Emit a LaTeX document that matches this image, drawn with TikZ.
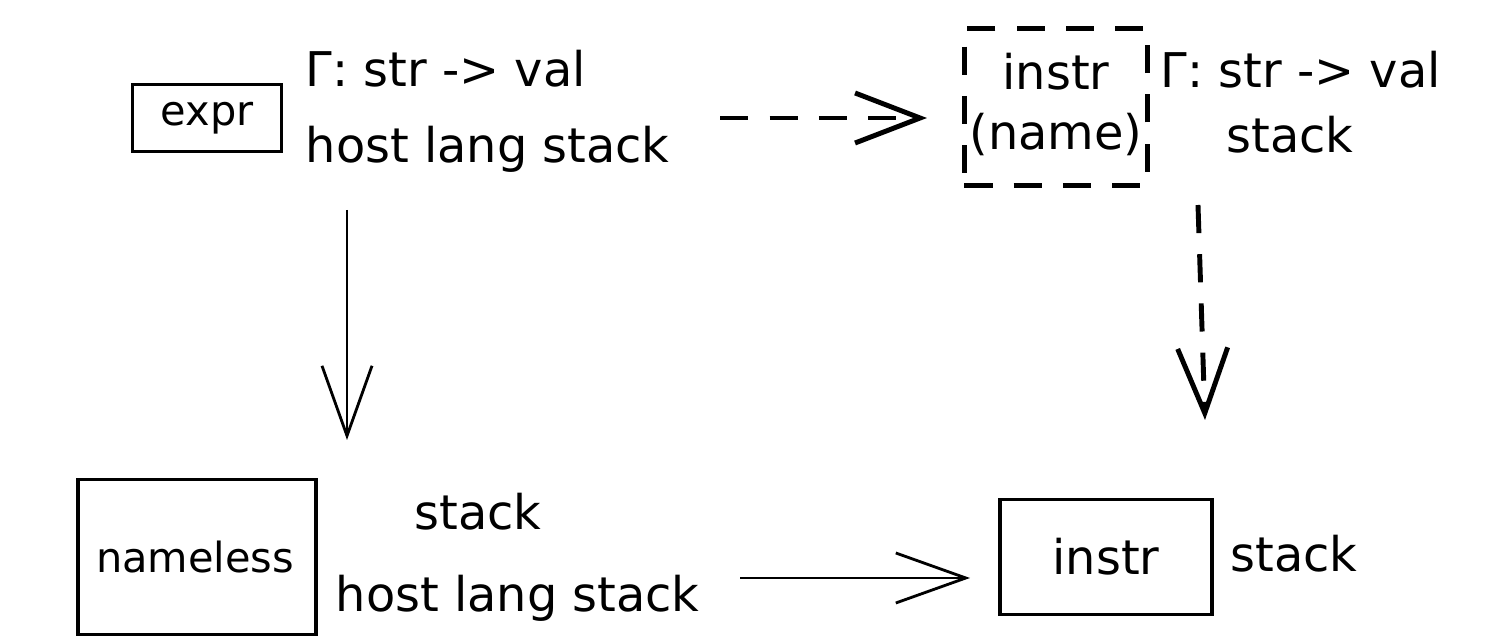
\documentclass[tikz,border=0pt]{standalone}
\usepackage{fontspec}
\setmainfont{DejaVu Sans}
\usetikzlibrary{arrows.meta,positioning,calc}

\begin{document}
\begin{tikzpicture}[
    x=0.01cm, y=-0.01cm,
    font=\fontsize{13.6}{17}\selectfont,
    box/.style={
        rectangle,
        draw,
        line width=0.9pt,
        align=center,
        inner sep=0pt
    },
    dashbox/.style={
        box,
        line width=1.4pt,
        dash pattern=on 8pt off 6pt
    },
    label/.style={
        inner sep=0pt,
        anchor=base west
    },
    small/.style={
        font=\fontsize{11.8}{15}\selectfont
    },
    arrow/.style={
        -{Straight Barb[length=7mm,width=5mm,line width=0.8pt]},
        line width=0.7pt
    },
    dasharrow/.style={
        -{Straight Barb[length=6.5mm,width=5mm,line width=1.4pt]},
        line width=1.4pt,
        dash pattern=on 8pt off 6pt
    }
]
\useasboundingbox (0,0) rectangle (1499,643);

% top row
\node[box, small, minimum width=1.49cm, minimum height=0.67cm] (expr) at (207,118) {expr};
\node[label] (gammaA) at (305,87) {Γ: str -> val};
\node[label] (hostA) at (305,163) {host lang stack};

\node[dashbox, minimum width=1.83cm, minimum height=1.57cm] (instrN) at (1056,107) {};
\node[inner sep=0pt, anchor=base] (instrNt) at (1056,90) {instr};
\node[inner sep=0pt, anchor=base] (instrNn) at (1056,150) {(name)};
\node[label] (gammaB) at (1160,88) {Γ: str -> val};
\node[inner sep=0pt, anchor=base] (stackA) at (1290,153) {stack};

% bottom row
\node[box, minimum width=2.38cm, minimum height=1.55cm] (nameless) at (197,557) {};
\node[small, inner sep=0pt, anchor=base] (namelesst) at (195,573) {nameless};
\node[inner sep=0pt, anchor=base] (stackB) at (478,530) {stack};
\node[label] (hostB) at (335,612) {host lang stack};

\node[box, minimum width=2.12cm, minimum height=1.15cm] (instr) at (1106,557) {};
\node[inner sep=0pt, anchor=base] (instrt) at (1106,575) {instr};
\node[label] (stackC) at (1230,572) {stack};

% arrow ends
\coordinate (downA) at (347,210);
\coordinate (downB) at (347,440);
\coordinate (downC) at (1198,205);
\coordinate (downD) at (1205,420);
\coordinate (rightA) at (740,578);
\coordinate (rightB) at (970,578);

\draw[dasharrow, shorten <=5mm, shorten >=3.5mm] (hostA.east |- expr) -- (instrN.west |- expr);
\draw[arrow] (downA) -- (downB);
\draw[dasharrow] (downC) -- (downD);
\draw[arrow] (rightA) -- (rightB);

\end{tikzpicture}
\end{document}
